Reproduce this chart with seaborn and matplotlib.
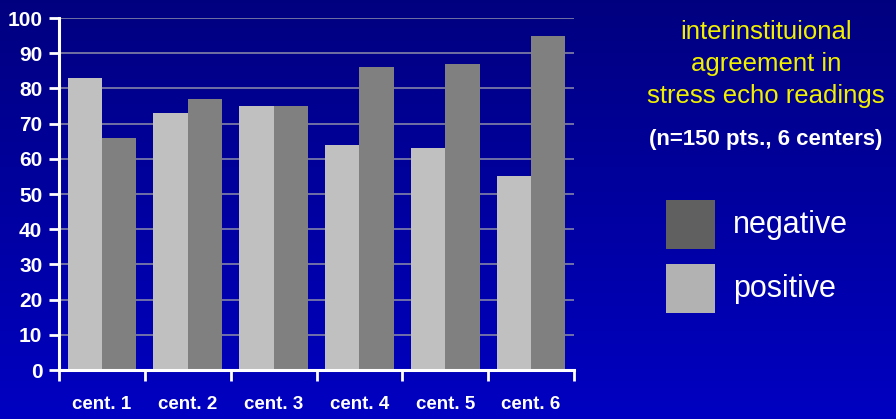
import numpy as np
import pandas as pd
import matplotlib
matplotlib.use("Agg")
import matplotlib.pyplot as plt
from matplotlib.patches import Rectangle
import seaborn as sns

# Agreement (%) per center
centers = ["cent. 1", "cent. 2", "cent. 3", "cent. 4", "cent. 5", "cent. 6"]
positive = [83, 73, 75, 64, 63, 55]
negative = [66, 77, 75, 86, 87, 95]
y_ticks = [0, 10, 20, 30, 40, 50, 60, 70, 80, 90, 100]

df = pd.DataFrame({
    "center": centers * 2,
    "value": positive + negative,
    "reading": ["positive"] * len(centers) + ["negative"] * len(centers),
})

sns.set_theme(style="white")
plt.rcParams["font.family"] = ["Liberation Sans", "DejaVu Sans"]

W, H, DPI = 896, 419, 100
fig = plt.figure(figsize=(W / DPI, H / DPI), dpi=DPI)

# vertical navy-to-blue gradient behind everything
bg = fig.add_axes([0, 0, 1, 1], zorder=-10)
grad = np.linspace(0, 1, 256)[:, None]
top = np.array([0.0, 0.0, 0.50])
bot = np.array([0.0, 0.0, 0.76])
img = top[None, None, :] * (1 - grad[:, :, None]) + bot[None, None, :] * grad[:, :, None]
bg.imshow(img, aspect="auto", extent=[0, 1, 0, 1], origin="upper")
bg.set_axis_off()

ax = fig.add_axes([59 / W, 1 - 370 / H, (574 - 59) / W, (370 - 18) / H])
ax.set_facecolor("none")

sns.barplot(data=df, x="center", y="value", hue="reading",
            hue_order=["positive", "negative"],
            palette={"positive": "#c0c0c0", "negative": "#808080"},
            width=0.8, saturation=1, linewidth=0, edgecolor="none",
            ax=ax, legend=False, zorder=3)

ax.set_xlim(-0.5, len(centers) - 0.5)
ax.set_ylim(0, 100)
ax.set_yticks(y_ticks)
ax.set_yticklabels([str(t) for t in y_ticks], fontsize=15, fontweight="bold", color="white")
ax.yaxis.grid(True, color="#8484a8", linewidth=1.2, zorder=0)
ax.set_axisbelow(True)

ax.set_xticks(range(len(centers)))
ax.set_xticklabels(centers, fontsize=13.5, fontweight="bold", color="white")
ax.set_xticks(np.arange(-0.5, len(centers), 1.0), minor=True)
ax.tick_params(axis="x", which="major", length=0, pad=19, bottom=True)
ax.tick_params(axis="x", which="minor", length=8, width=2, color="white",
               direction="out", bottom=True)
ax.tick_params(axis="y", which="major", length=7, width=2, color="white",
               direction="out", pad=5, left=True)
ax.set_xlabel("")
ax.set_ylabel("")

for side in ("top", "right"):
    ax.spines[side].set_visible(False)
for side in ("left", "bottom"):
    ax.spines[side].set_color("white")
    ax.spines[side].set_linewidth(2.2)
    ax.spines[side].set_zorder(5)

# title block on the right
fig.text(766 / W, 1 - 64 / H, "interinstituional\nagreement in\nstress echo readings",
         ha="center", va="center", color="#f0f000", fontsize=18.5, linespacing=1.4)
fig.text(766 / W, 1 - 139 / H, "(n=150 pts., 6 centers)",
         ha="center", va="center", color="white", fontsize=16, fontweight="bold")

# legend swatches
for y0, col, label in [(200, "#606060", "negative"), (264, "#b2b2b2", "positive")]:
    fig.patches.append(Rectangle((666 / W, 1 - (y0 + 49) / H), 49 / W, 49 / H,
                                 transform=fig.transFigure, facecolor=col,
                                 edgecolor="none", figure=fig))
    fig.text(733 / W, 1 - (y0 + 25) / H, label, ha="left", va="center",
             color="white", fontsize=22)

fig.savefig("out.png", dpi=DPI)
